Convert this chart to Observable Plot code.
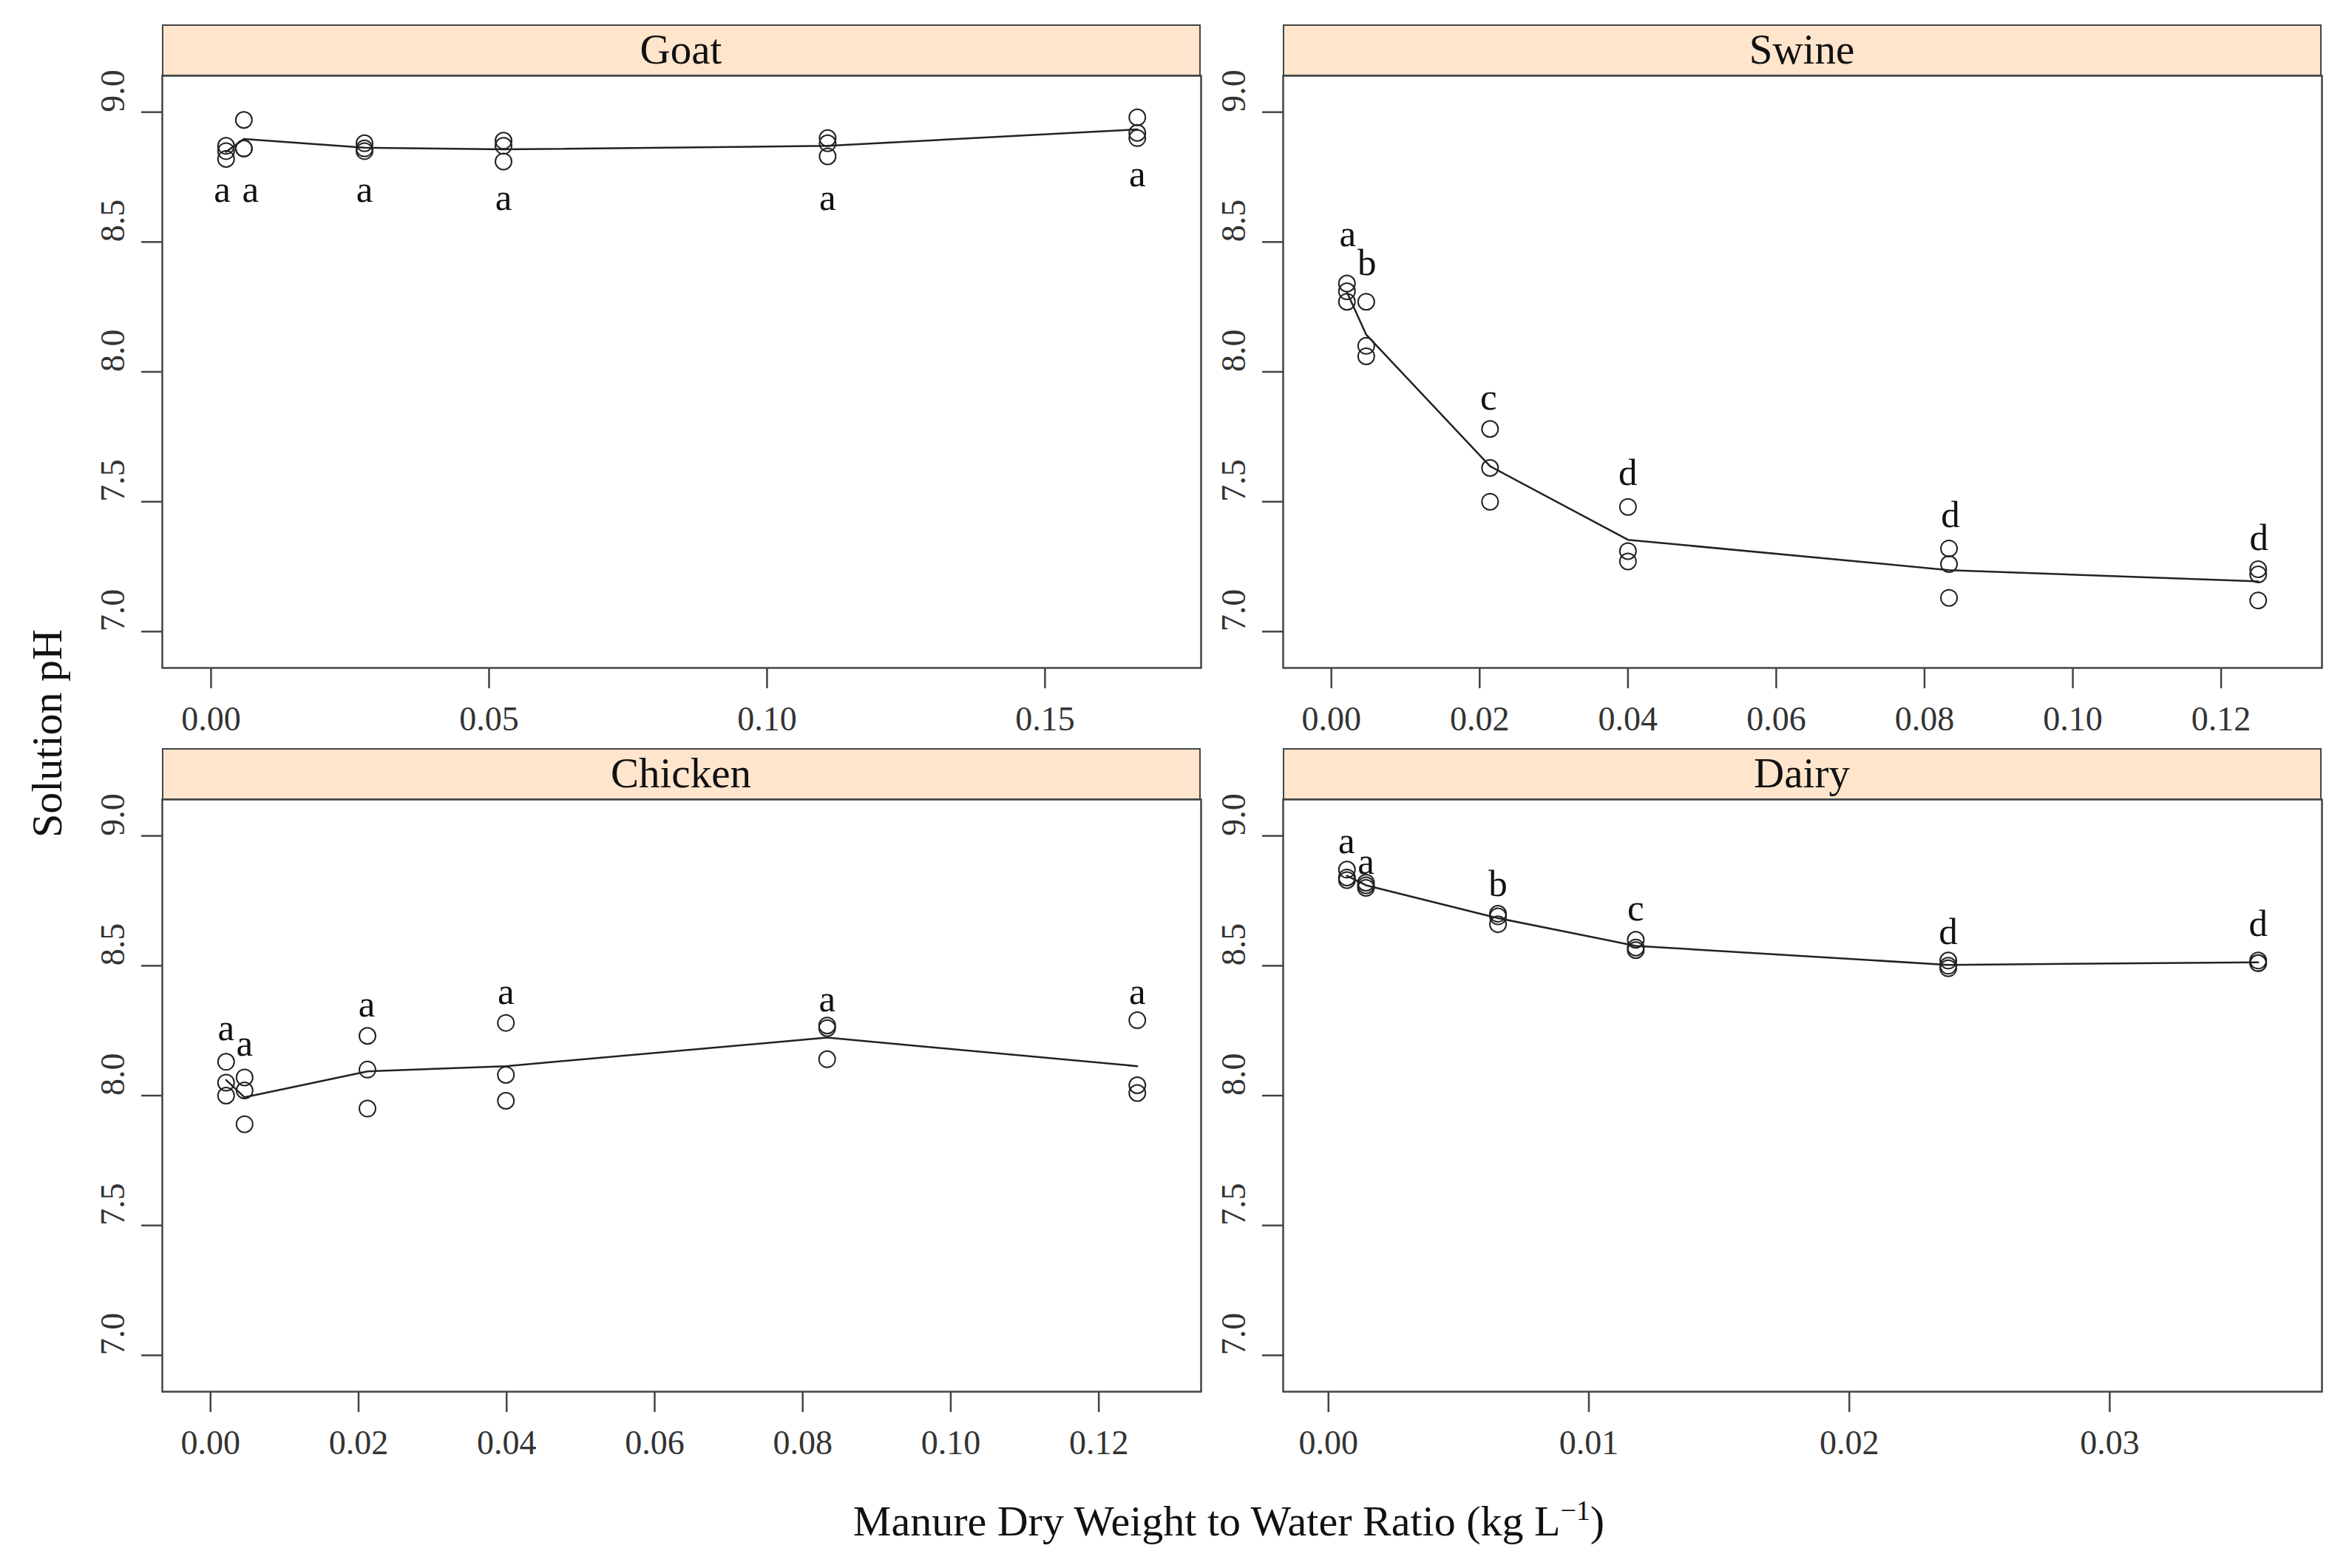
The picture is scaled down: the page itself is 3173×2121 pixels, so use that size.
<!DOCTYPE html>
<html>
<head>
<meta charset="utf-8">
<script src="https://cdn.jsdelivr.net/npm/d3@7"></script>
<script src="https://cdn.jsdelivr.net/npm/@observablehq/plot@0.6"></script>
<style>
html, body { margin: 0; padding: 0; background: #fff; }
#fig { position: relative; width: 3173px; height: 2121px; overflow: hidden;
  font-family: "Liberation Serif", "Times New Roman", serif; color: #111; }
.strip { position: absolute; box-sizing: border-box; background: #ffe5cc;
  border: 2.5px solid #444; font-size: 57px; text-align: center; line-height: 64px; }
.panel { position: absolute; }
.panel svg { overflow: visible; }
.ytitle { position: absolute; font-size: 58px; line-height: 1; white-space: nowrap;
  transform: translate(-50%, -50%) rotate(-90deg); }
.xtitle { position: absolute; font-size: 58px; line-height: 1; white-space: nowrap;
  transform: translate(-50%, -50%); }
.xtitle sup { font-size: 38px; vertical-align: 0.55em; line-height: 0; }
</style>
</head>
<body>
<div id="fig"></div>
<script>
// ---------- data ----------
const panelNames = ["Goat", "Swine", "Chicken", "Dairy"];
const yTicks = [7.0, 7.5, 8.0, 8.5, 9.0];
const yLimits = [7.0, 9.0];

const goatX = [0.0027, 0.0059, 0.0276, 0.0526, 0.1109, 0.1666];
const goatPH = [
  [8.87, 8.85, 8.82],
  [8.97, 8.86, 8.86],
  [8.88, 8.86, 8.85],
  [8.89, 8.87, 8.81],
  [8.90, 8.88, 8.83],
  [8.98, 8.92, 8.90]
];
const goatLetters = ["a", "a", "a", "a", "a", "a"];
const goatLetterX = [0.0020, 0.0071, 0.0276, 0.0526, 0.1109, 0.1666];
const goatLetterY = [8.70, 8.70, 8.70, 8.67, 8.67, 8.76];
const goatTicks = [0.00, 0.05, 0.10, 0.15];

const swineX = [0.0021, 0.0047, 0.0214, 0.0400, 0.0833, 0.1250];
const swinePH = [
  [8.34, 8.31, 8.27],
  [8.27, 8.10, 8.06],
  [7.78, 7.63, 7.50],
  [7.48, 7.31, 7.27],
  [7.32, 7.26, 7.13],
  [7.24, 7.22, 7.12]
];
const swineLetters = ["a", "b", "c", "d", "d", "d"];
const swineLetterX = [0.0022, 0.0048, 0.0212, 0.0400, 0.0835, 0.1251];
const swineLetterY = [8.53, 8.42, 7.90, 7.61, 7.45, 7.36];
const swineTicks = [0.00, 0.02, 0.04, 0.06, 0.08, 0.10, 0.12];

const chickenX = [0.0021, 0.0046, 0.0212, 0.0399, 0.0833, 0.1252];
const chickenPH = [
  [8.13, 8.05, 8.00],
  [8.07, 8.02, 7.89],
  [8.23, 8.10, 7.95],
  [8.28, 8.08, 7.98],
  [8.27, 8.26, 8.14],
  [8.29, 8.04, 8.01]
];
const chickenLetters = ["a", "a", "a", "a", "a", "a"];
const chickenLetterX = [0.0021, 0.0046, 0.0211, 0.0399, 0.0833, 0.1252];
const chickenLetterY = [8.26, 8.20, 8.35, 8.40, 8.37, 8.40];
const chickenTicks = [0.00, 0.02, 0.04, 0.06, 0.08, 0.10, 0.12];

const dairyX = [0.00071, 0.00144, 0.00651, 0.0118, 0.0238, 0.0357];
const dairyPH = [
  [8.87, 8.84, 8.83],
  [8.82, 8.81, 8.80],
  [8.70, 8.69, 8.66],
  [8.60, 8.57, 8.56],
  [8.52, 8.50, 8.49],
  [8.52, 8.51, 8.51]
];
const dairyLetters = ["a", "a", "b", "c", "d", "d"];
const dairyLetterX = [0.00070, 0.00144, 0.00651, 0.0118, 0.0238, 0.0357];
const dairyLetterY = [8.98, 8.90, 8.815, 8.72, 8.63, 8.66];
const dairyTicks = [0.00, 0.01, 0.02, 0.03];

const xTitle = "Manure Dry Weight to Water Ratio (kg L";
const yTitle = "Solution pH";

// ---------- layout ----------
const fig = document.getElementById("fig");
const FW = 1405, FH = 801;            // frame size
const ML = 130, MR = 10, MT = 10, MB = 130;
const PAD = 0.07;                      // lattice axis padding
const ink = "#222", axisInk = "#444";
const yPad = PAD * (yLimits[1] - yLimits[0]);
const yDomain = [yLimits[0] - yPad, yLimits[1] + yPad];

function panel(name, xs, ph, letters, letterX, letterY, ticks, left, top) {
  const pts = [];
  xs.forEach((x, i) => ph[i].forEach(y => pts.push({x, y})));
  const lab = letters.map((t, i) => ({x: letterX[i], y: letterY[i], t}));
  const [lo, hi] = d3.extent(xs);
  const p = PAD * (hi - lo);
  const fmtX = d3.format(".2f"), fmtY = d3.format(".1f");

  const chart = Plot.plot({
    width: FW + ML + MR,
    height: FH + MT + MB,
    marginLeft: ML, marginRight: MR, marginTop: MT, marginBottom: MB,
    x: {domain: [lo - p, hi + p]},
    y: {domain: yDomain},
    style: {fontFamily: '"Liberation Serif", "Times New Roman", serif', fontSize: "46px",
            background: "transparent", overflow: "visible"},
    marks: [
      Plot.axisX({ticks, tickSize: 28, fill: "none", stroke: axisInk, strokeWidth: 2.5, label: null}),
      Plot.axisY({ticks: yTicks, tickSize: 28, fill: "none", stroke: axisInk, strokeWidth: 2.5, label: null}),
      Plot.text(ticks, {x: d => d, text: d => fmtX(d), frameAnchor: "bottom", dy: 84,
                        fill: "#333", fontSize: 46}),
      Plot.text(yTicks, {y: d => d, text: d => fmtY(d), frameAnchor: "left", dx: -66,
                         rotate: -90, fill: "#333", fontSize: 46}),
      Plot.lineY(pts, Plot.groupX({y: "mean"}, {x: "x", y: "y", stroke: ink, strokeWidth: 2.5})),
      Plot.dot(pts, {x: "x", y: "y", r: 11, stroke: ink, strokeWidth: 2, fill: "none"}),
      Plot.text(lab, {x: "x", y: "y", text: "t", fontSize: 51, fill: "#111"}),
      Plot.frame({stroke: axisInk, strokeWidth: 2.5})
    ]
  });

  const wrap = document.createElement("div");
  wrap.className = "panel";
  wrap.style.left = (left - ML) + "px";
  wrap.style.top = (top - MT) + "px";
  wrap.appendChild(chart);
  fig.appendChild(wrap);

  const strip = document.createElement("div");
  strip.className = "strip";
  strip.style.left = left + "px";
  strip.style.top = (top - 69) + "px";
  strip.style.width = FW + "px";
  strip.style.height = "70px";
  strip.textContent = name;
  fig.appendChild(strip);
}

const colL = 218.5, colR = 1734.5, rowT = 101.5, rowB = 1081;
panel(panelNames[0], goatX, goatPH, goatLetters, goatLetterX, goatLetterY, goatTicks, colL, rowT);
panel(panelNames[1], swineX, swinePH, swineLetters, swineLetterX, swineLetterY, swineTicks, colR, rowT);
panel(panelNames[2], chickenX, chickenPH, chickenLetters, chickenLetterX, chickenLetterY, chickenTicks, colL, rowB);
panel(panelNames[3], dairyX, dairyPH, dairyLetters, dairyLetterX, dairyLetterY, dairyTicks, colR, rowB);

const yt = document.createElement("div");
yt.className = "ytitle";
yt.style.left = "64px";
yt.style.top = "992px";
yt.textContent = yTitle;
fig.appendChild(yt);

const xt = document.createElement("div");
xt.className = "xtitle";
xt.style.left = "1662px";
xt.style.top = "2058px";
xt.innerHTML = xTitle + "<sup>\u22121</sup>)";
fig.appendChild(xt);
</script>
</body>
</html>
